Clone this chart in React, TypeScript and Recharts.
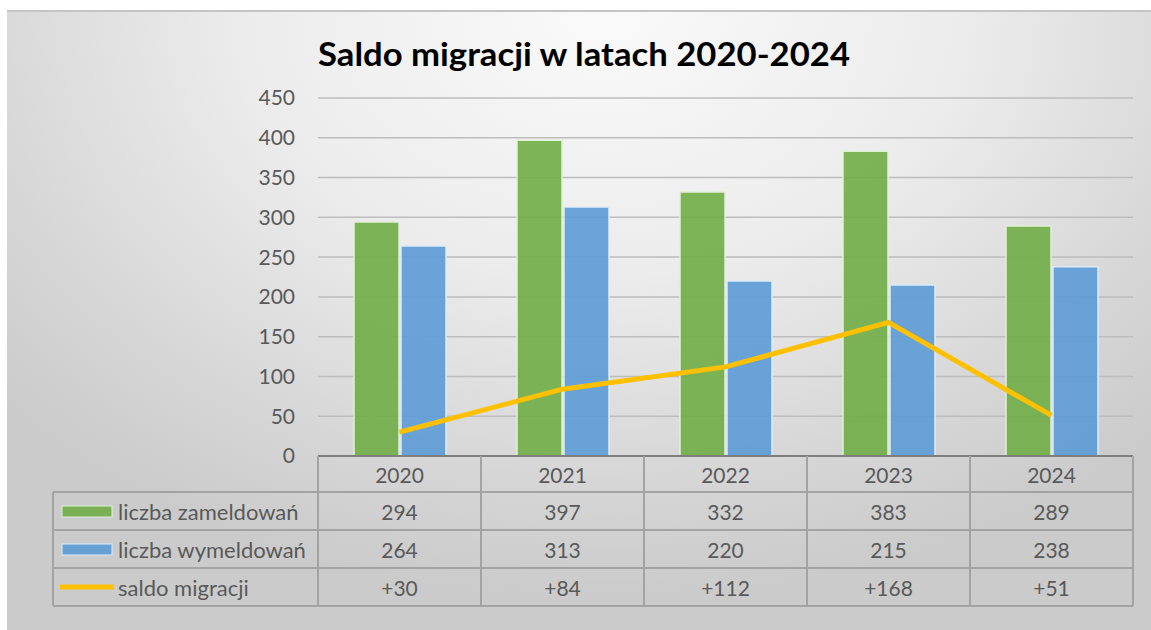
import React from "react";
import { ComposedChart, Bar, Line, XAxis, YAxis, CartesianGrid } from "recharts";

const years = ["2020", "2021", "2022", "2023", "2024"];
const zameldowania = [294, 397, 332, 383, 289];
const wymeldowania = [264, 313, 220, 215, 238];
const saldo = [30, 84, 112, 168, 51];
const yTicks = [0, 50, 100, 150, 200, 250, 300, 350, 400, 450];

const seriesNames = ["liczba zameldowań", "liczba wymeldowań", "saldo migracji"];

const data = years.map((y, i) => ({
  year: y,
  zam: zameldowania[i],
  wym: wymeldowania[i],
  saldo: saldo[i],
}));

const FONT = "Lato, 'Open Sans', sans-serif";
const TEXT = "#595959";
const LINE = "#a3a3a3";
const GREEN = "#70AD47";
const BLUE = "#5B9BD5";
const YELLOW = "#FFC000";
const LEGEND_LEFT = 53;
const ROWS = [0, 36, 74, 112, 150];

const fmtSaldo = (v: number) => (v > 0 ? "+" + v : String(v));

const TableTick = (props: any) => {
  const { x, y, payload, index } = props;
  const half = payload && payload.offset ? payload.offset : 81.5;
  const left = x - half;
  const right = x + half;
  const i = typeof index === "number" ? index : years.indexOf(payload.value);
  const values = [String(zameldowania[i]), String(wymeldowania[i]), fmtSaldo(saldo[i])];
  const lines: any[] = [];
  for (let r = 1; r < ROWS.length; r++) {
    lines.push(
      <line key={"h" + r} x1={left} x2={right} y1={y + ROWS[r]} y2={y + ROWS[r]} stroke={LINE} strokeWidth={2} />
    );
  }
  lines.push(<line key="vr" x1={right} x2={right} y1={y} y2={y + ROWS[4]} stroke={LINE} strokeWidth={2} />);
  if (i === 0) {
    lines.push(<line key="vl" x1={left} x2={left} y1={y} y2={y + ROWS[4]} stroke={LINE} strokeWidth={2} />);
    lines.push(
      <line key="ll" x1={LEGEND_LEFT} x2={LEGEND_LEFT} y1={y + ROWS[1]} y2={y + ROWS[4]} stroke={LINE} strokeWidth={2} />
    );
    for (let r = 1; r < ROWS.length; r++) {
      lines.push(
        <line key={"lh" + r} x1={LEGEND_LEFT} x2={left} y1={y + ROWS[r]} y2={y + ROWS[r]} stroke={LINE} strokeWidth={2} />
      );
    }
  }
  return (
    <g>
      {lines}
      <text x={x} y={y + 18} textAnchor="middle" dominantBaseline="central" fill={TEXT} fontSize={21} fontFamily={FONT}>
        {payload.value}
      </text>
      {values.map((v, r) => (
        <text
          key={"t" + r}
          x={x}
          y={y + (ROWS[r + 1] + ROWS[r + 2]) / 2}
          textAnchor="middle"
          dominantBaseline="central"
          fill={TEXT}
          fontSize={21}
          fontFamily={FONT}
        >
          {v}
        </text>
      ))}
      {i === 0 && (
        <g>
          <rect x={62} y={y + 50} width={50} height={11} fill={GREEN} fillOpacity={0.9} stroke="#e2f0d9" strokeWidth={1} />
          <rect x={62} y={y + 88} width={50} height={11} fill={BLUE} fillOpacity={0.9} stroke="#deebf7" strokeWidth={1} />
          <line x1={60} x2={114} y1={y + 131} y2={y + 131} stroke={YELLOW} strokeWidth={5} />
          {seriesNames.map((n, r) => (
            <text
              key={"n" + r}
              x={118}
              y={y + (ROWS[r + 1] + ROWS[r + 2]) / 2}
              dominantBaseline="central"
              fill={TEXT}
              fontSize={22}
              fontFamily={FONT}
            >
              {n}
            </text>
          ))}
        </g>
      )}
    </g>
  );
};

export default function App() {
  return (
    <div style={{ position: "absolute", left: 0, top: 0, width: 1151, height: 630, background: "#ffffff" }}>
      <div
        style={{
          position: "absolute",
          left: 7,
          top: 10,
          width: 1144,
          height: 620,
          background:
            "radial-gradient(ellipse 70% 95% at 52% 0%, #fafafa 0%, #ececec 45%, #d6d6d6 80%, #cbcbcb 100%)",
          borderTop: "2px solid #c4c4c4",
          boxSizing: "border-box",
        }}
      />
      <div style={{ position: "absolute", left: 0, top: 0 }}>
        <ComposedChart
          width={1151}
          height={630}
          data={data}
          margin={{ top: 98, right: 18, bottom: 24, left: 0 }}
          barSize={45}
          barGap={2}
        >
          <text
            x={584}
            y={66}
            textAnchor="middle"
            fontFamily={FONT}
            fontWeight={700}
            fontSize={32}
            fill="#000000"
            textLength={532}
            lengthAdjust="spacingAndGlyphs"
          >
            Saldo migracji w latach 2020-2024
          </text>
          <CartesianGrid vertical={false} stroke="#bdbdbd" strokeWidth={1.5} />
          <YAxis
            width={318}
            domain={[0, 450]}
            ticks={yTicks}
            interval={0}
            axisLine={false}
            tickLine={false}
            tickSize={0}
            tickMargin={23}
            tick={{ fill: TEXT, fontSize: 21, fontFamily: FONT }}
          />
          <XAxis
            dataKey="year"
            height={150}
            interval={0}
            tickLine={false}
            tickSize={0}
            tickMargin={0}
            axisLine={{ stroke: "#7f7f7f", strokeWidth: 2 }}
            tick={<TableTick />}
          />
          <Bar dataKey="zam" fill={GREEN} fillOpacity={0.9} stroke="#e2f0d9" strokeWidth={1.5} isAnimationActive={false} />
          <Bar dataKey="wym" fill={BLUE} fillOpacity={0.9} stroke="#deebf7" strokeWidth={1.5} isAnimationActive={false} />
          <Line dataKey="saldo" stroke={YELLOW} strokeWidth={5} dot={false} activeDot={false} isAnimationActive={false} />
        </ComposedChart>
      </div>
    </div>
  );
}
